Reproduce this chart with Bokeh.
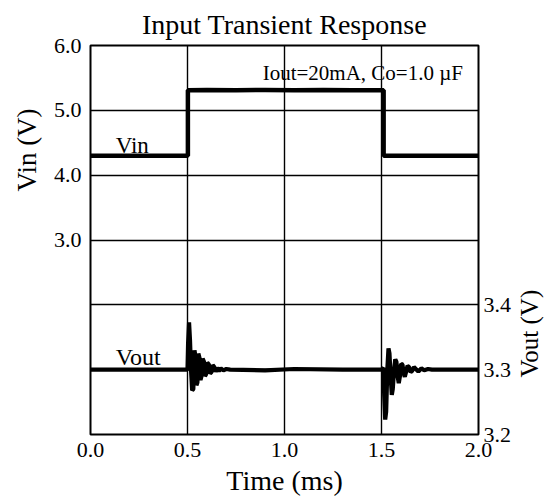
import math
from bokeh.plotting import figure
from bokeh.models import Range1d, LinearAxis, FixedTicker, Label, Title
from bokeh.embed import file_html
from bokeh.resources import INLINE

# ---- data ----
time_ticks = [0.0, 0.5, 1.0, 1.5, 2.0]
time_tick_labels = ["0.0", "0.5", "1.0", "1.5", "2.0"]
vin_ticks = [3.0, 4.0, 5.0, 6.0]
vin_tick_labels = ["3.0", "4.0", "5.0", "6.0"]
vout_ticks = [3.2, 3.3, 3.4]
vout_tick_labels = ["3.2", "3.3", "3.4"]

vin_t = [0.0, 0.502, 0.502, 0.60, 0.75, 0.90, 1.05, 1.20, 1.35, 1.511, 1.511, 2.0]
vin_v = [4.30, 4.30, 5.31, 5.315, 5.31, 5.315, 5.31, 5.315, 5.31, 5.31, 4.30, 4.30]

vout_t = [0.0, 0.500, 0.503, 0.508, 0.513, 0.518, 0.524, 0.530, 0.536, 0.541,
          0.546, 0.551, 0.556, 0.562, 0.567, 0.572, 0.578, 0.585, 0.590, 0.596,
          0.602, 0.610, 0.616, 0.623, 0.630, 0.638, 0.645, 0.653, 0.662, 0.672,
          0.685, 0.700, 0.720, 0.90, 1.05, 1.30,
          1.500, 1.510, 1.514, 1.519, 1.524, 1.530, 1.536, 1.541, 1.547, 1.553,
          1.558, 1.565, 1.571, 1.577, 1.583, 1.589, 1.595, 1.601, 1.608, 1.614,
          1.620, 1.627, 1.634, 1.642, 1.650, 1.658, 1.667, 1.677, 1.690, 1.705,
          1.720, 1.740, 1.760, 2.0]
vout_v = [3.300, 3.300, 3.340, 3.373, 3.345, 3.300, 3.268, 3.270, 3.330, 3.320,
          3.276, 3.280, 3.325, 3.318, 3.284, 3.290, 3.317, 3.312, 3.290, 3.293,
          3.311, 3.308, 3.294, 3.296, 3.307, 3.304, 3.297, 3.303, 3.298, 3.302,
          3.299, 3.301, 3.300, 3.299, 3.301, 3.300,
          3.300, 3.303, 3.260, 3.223, 3.235, 3.300, 3.333, 3.325, 3.290, 3.261,
          3.270, 3.300, 3.316, 3.312, 3.290, 3.279, 3.290, 3.309, 3.308, 3.295,
          3.289, 3.297, 3.306, 3.304, 3.296, 3.298, 3.304, 3.301, 3.297, 3.302,
          3.299, 3.301, 3.300, 3.300]

FONT = "Liberation Serif"

p = figure(width=560, height=503, output_backend="svg", toolbar_location=None,
           x_range=Range1d(0, 2), y_range=Range1d(0, 6),
           min_border_left=90, min_border_right=82, min_border_top=45, min_border_bottom=69,
           background_fill_color="white", border_fill_color="white")
p.extra_y_ranges = {"vout": Range1d(3.2, 3.8), "lbl": Range1d(0, 389)}

p.outline_line_color = "black"
p.outline_line_width = 2
p.outline_line_alpha = 1

# title
p.title.text = "Input Transient Response"
p.title.align = "center"
p.title.text_font = FONT
p.title.text_font_size = "28px"
p.title.text_font_style = "normal"
p.title.text_color = "black"
p.title.standoff = 12

# grids
p.xgrid.ticker = FixedTicker(ticks=[0.5, 1.0, 1.5])
p.ygrid.ticker = FixedTicker(ticks=[1, 2, 3, 4, 5])
for g in (p.xgrid, p.ygrid):
    g.grid_line_color = "black"
    g.grid_line_width = 1.4
    g.grid_line_alpha = 1

def style_axis(ax, ticks, labels, standoff, size="22px"):
    ax.ticker = FixedTicker(ticks=ticks)
    ax.major_label_overrides = {t: l for t, l in zip(ticks, labels)}
    ax.axis_line_color = None
    ax.major_tick_line_color = None
    ax.minor_tick_line_color = None
    ax.major_tick_out = 0
    ax.major_tick_in = 0
    ax.major_label_text_font = FONT
    ax.major_label_text_font_size = size
    ax.major_label_text_color = "black"
    ax.major_label_standoff = standoff

style_axis(p.xaxis[0], time_ticks, time_tick_labels, 8)
style_axis(p.yaxis[0], vin_ticks, vin_tick_labels, 9)
raxis = LinearAxis(y_range_name="vout")
style_axis(raxis, vout_ticks, vout_tick_labels, 5)
p.add_layout(raxis, "right")

xa = p.xaxis[0]
xa.axis_label = "Time (ms)"
xa.axis_label_text_font = FONT
xa.axis_label_text_font_size = "28px"
xa.axis_label_text_font_style = "normal"
xa.axis_label_text_color = "black"
xa.axis_label_standoff = 5

# left side title, shifted toward the upper part
p.add_layout(Title(text="Vin (V)", align="left", offset=243, text_font=FONT,
                   text_font_size="27px", text_font_style="normal",
                   text_color="black", standoff=18), "left")

# right side label reading bottom-to-top (an extra axis carrying one label)
vout_lbl_axis = LinearAxis(y_range_name="lbl")
style_axis(vout_lbl_axis, [57], ["Vout (V)"], 15, size="25px")
vout_lbl_axis.major_label_orientation = math.pi / 2
p.add_layout(vout_lbl_axis, "right")

# data lines
p.line(vin_t, vin_v, line_color="black", line_width=4.5)
p.line(vout_t, vout_v, line_color="black", line_width=4.2, y_range_name="vout")

# in-plot texts
def lab(x, y, text, size, align="left"):
    p.add_layout(Label(x=x, y=y, text=text, text_font=FONT, text_font_size=size,
                       text_align=align, text_baseline="alphabetic",
                       text_color="black"))

lab(1.92, 5.58, "Iout=20mA, Co=1.0 \u00b5F", "21px", align="right")
lab(0.13, 4.45, "Vin", "23px")
lab(0.13, 1.20, "Vout", "24px")

open("out.html", "w").write(file_html(p, INLINE))
